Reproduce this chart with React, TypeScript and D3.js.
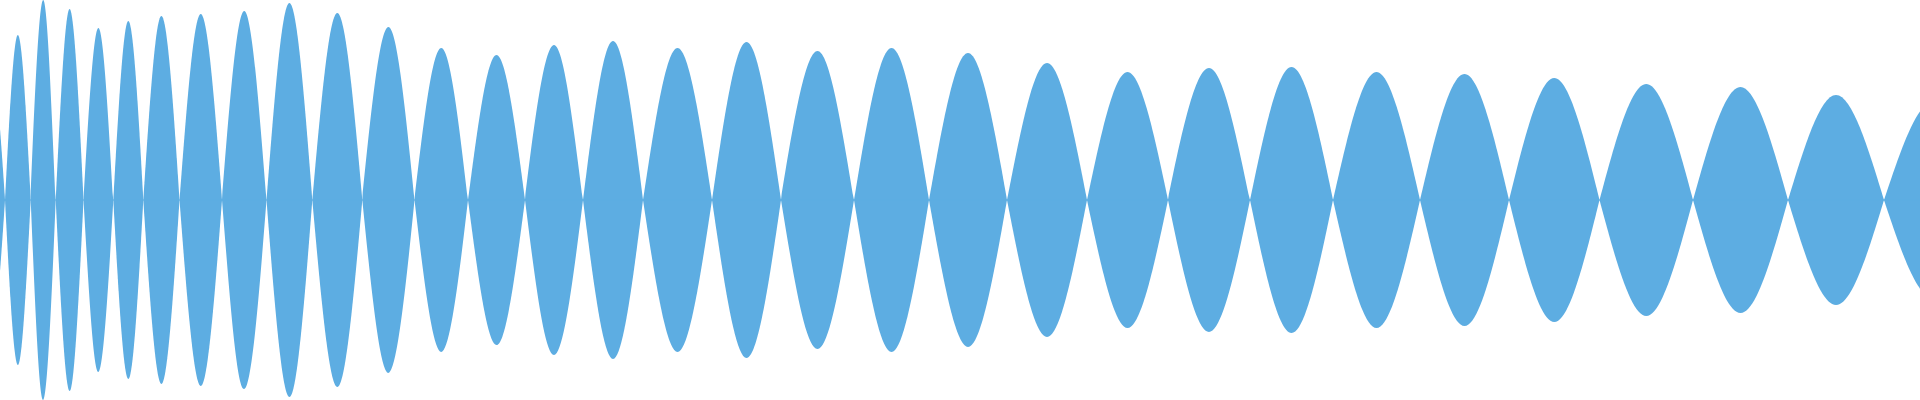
import React from "react";
import * as d3 from "d3";

// Zero crossings of the waveform envelope (sample position, px-like units)
const zeroCrossings: number[] = [
  -21, 5, 30.7, 55.7, 83.5, 113.3, 143.3, 179.5, 222, 266.5, 312.3, 362.3,
  414.5, 468, 525, 583, 643, 712, 781, 854, 929, 1007, 1087, 1168, 1250,
  1333, 1420, 1509, 1599.5, 1693, 1788, 1884, 1982,
];

// Peak amplitude of each lobe between consecutive zero crossings (0..1)
const peakAmplitudes: number[] = [
  0.65, 0.825, 1.0, 0.955, 0.86, 0.895, 0.92, 0.93, 0.945, 0.985, 0.935,
  0.865, 0.76, 0.725, 0.775, 0.795, 0.76, 0.79, 0.745, 0.76, 0.735, 0.685,
  0.64, 0.66, 0.665, 0.64, 0.63, 0.61, 0.58, 0.565, 0.525, 0.49,
];

const WIDTH = 1920;
const HEIGHT = 400;
const COLOR = "#5DADE2";

type Pt = { t: number; v: number };

export default function App() {
  const x = d3.scaleLinear().domain([0, 1920]).range([0, WIDTH]);
  const y = d3.scaleLinear().domain([-1, 1]).range([HEIGHT, 0]);

  const area = d3
    .area<Pt>()
    .x((d) => x(d.t))
    .y0((d) => y(-d.v))
    .y1((d) => y(d.v))
    .curve(d3.curveNatural);

  const lobes: Pt[][] = peakAmplitudes.map((a, i) => {
    const t0 = zeroCrossings[i];
    const t1 = zeroCrossings[i + 1];
    return [
      { t: t0, v: 0 },
      { t: (t0 + t1) / 2, v: a },
      { t: t1, v: 0 },
    ];
  });

  return (
    <div style={{ position: "absolute", left: 0, top: 0 }}>
      <svg
        width={WIDTH}
        height={HEIGHT}
        style={{ display: "block", background: "#ffffff" }}
      >
        {lobes.map((pts, i) => (
          <path key={i} d={area(pts) || ""} fill={COLOR} />
        ))}
        <line
          x1={x(0)}
          x2={x(1920)}
          y1={y(0)}
          y2={y(0)}
          stroke={COLOR}
          strokeWidth={1}
        />
      </svg>
    </div>
  );
}
